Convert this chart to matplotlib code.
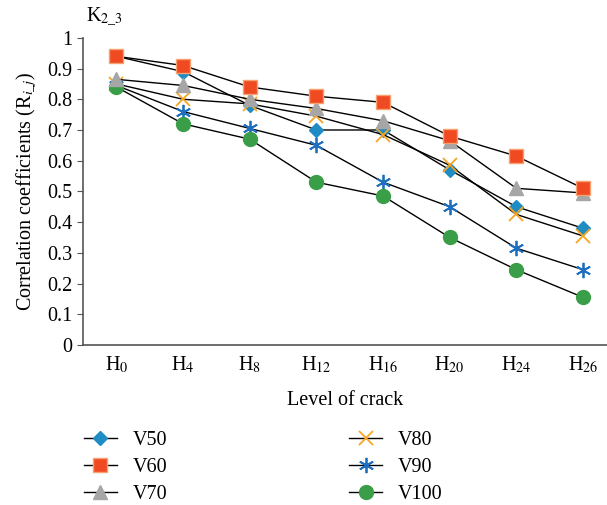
import matplotlib.pyplot as plt
import numpy as np

plt.rcParams['font.family'] = ['Liberation Serif', 'DejaVu Serif']
plt.rcParams['mathtext.fontset'] = 'stix'

levels = ['H$_{0}$', 'H$_{4}$', 'H$_{8}$', 'H$_{12}$', 'H$_{16}$', 'H$_{20}$', 'H$_{24}$', 'H$_{26}$']
v50 = [0.94, 0.89, 0.78, 0.70, 0.70, 0.57, 0.45, 0.38]
v60 = [0.94, 0.91, 0.84, 0.81, 0.79, 0.68, 0.615, 0.51]
v70 = [0.865, 0.845, 0.80, 0.77, 0.73, 0.665, 0.51, 0.495]
v80 = [0.85, 0.80, 0.785, 0.745, 0.685, 0.585, 0.425, 0.355]
v90 = [0.845, 0.76, 0.705, 0.65, 0.53, 0.45, 0.315, 0.245]
v100 = [0.84, 0.72, 0.67, 0.53, 0.485, 0.35, 0.245, 0.155]

fs = 14.5
fig = plt.figure(figsize=(6.07, 5.05), dpi=100)
ax = fig.add_axes([0.137, 0.317, 0.863, 0.608])

x = np.arange(len(levels))
# V60 drawn last so the squares sit on top like in the original
ax.plot(x, v50, color='black', lw=1, marker='D', ms=7, mfc='#1f8dc4', mec='#1f8dc4', label='V50', zorder=3)
ax.plot(x, v80, color='black', lw=1, marker='x', ms=10, mew=1.3, mec='#f5a623', label='V80', zorder=3)
ax.plot(x, v90, color='black', lw=1, marker=(6, 2, 0), ms=11, mew=1.3, mec='#1f6fc0', label='V90', zorder=3)
ax.plot(x, v100, color='black', lw=1, marker='o', ms=10, mfc='#3a9e48', mec='#3a9e48', label='V100', zorder=3)
ax.plot(x, v70, color='black', lw=1, marker='^', ms=10, mfc='#a6a6a6', mec='#a6a6a6', label='V70', zorder=4)
ax.plot(x, v60, color='black', lw=1, marker='s', ms=10, mfc='#f04a23', mec='#f8a070', label='V60', zorder=5)

ax.set_xlim(-0.5, 7.36)
ax.set_ylim(0, 1)
ax.set_yticks(np.arange(0, 1.01, 0.1))
ax.set_yticklabels(['0', '0.1', '0.2', '0.3', '0.4', '0.5', '0.6', '0.7', '0.8', '0.9', '1'])
ax.set_xticks(x)
ax.set_xticklabels(levels)
ax.tick_params(axis='y', direction='out', length=4, color='#555555', labelsize=fs)
ax.tick_params(axis='x', length=0, labelsize=fs, pad=7)

for s in ['top', 'right']:
    ax.spines[s].set_visible(False)
for s in ['left', 'bottom']:
    ax.spines[s].set_color('#555555')
    ax.spines[s].set_linewidth(1.2)

ax.set_xlabel('Level of crack', fontsize=fs, labelpad=11)
ax.set_ylabel('Correlation coefficients (R$_{i\\_j}$)', fontsize=fs, labelpad=6)
ax.text(0.005, 1.03, 'K$_{2\\_3}$', transform=ax.transAxes, fontsize=fs, ha='left', va='bottom')

handles, labels = ax.get_legend_handles_labels()
order = ['V50', 'V60', 'V70', 'V80', 'V90', 'V100']
hmap = dict(zip(labels, handles))
fig.legend([hmap[k] for k in order], order, loc='upper left', bbox_to_anchor=(0.108, 0.183),
           ncol=2, frameon=False, fontsize=fs, handlelength=1.65, columnspacing=9.0,
           labelspacing=0.4, handletextpad=0.8)

fig.savefig('out.png', dpi=100)
